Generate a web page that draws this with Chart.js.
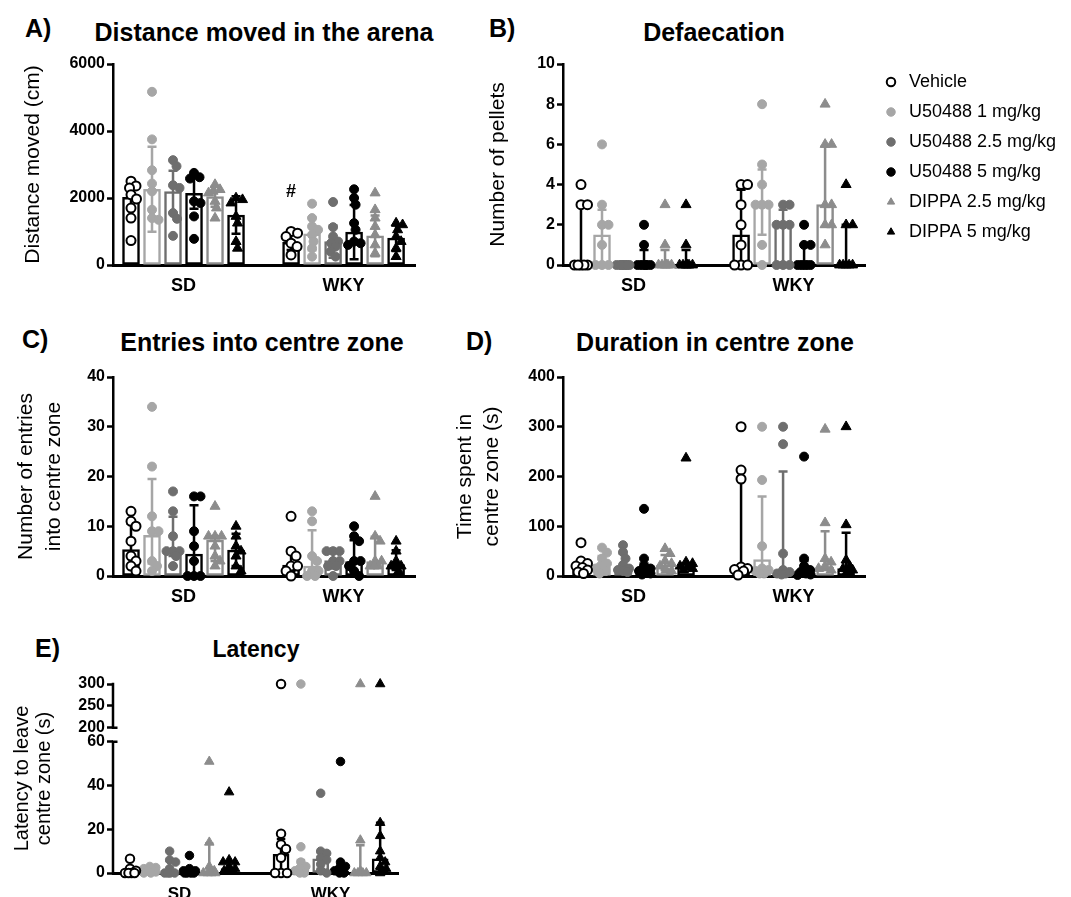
<!DOCTYPE html>
<html lang="en">
<head>
<meta charset="utf-8">
<title>Open field behaviour: SD and WKY rats</title>
<script src="https://cdn.jsdelivr.net/npm/chart.js@4.4.1/dist/chart.umd.min.js"></script>
<style>
  html, body { margin: 0; padding: 0; background: #fff; }
  body { position: relative; width: 1071px; height: 897px; overflow: hidden;
         font-family: "Liberation Sans", Arial, Helvetica, sans-serif; color: #000; }
  canvas { position: absolute; }
  .head { position: absolute; font-weight: bold; white-space: nowrap; line-height: 1; }
  .letter { font-size: 25px; }
  .title { font-size: 25px; transform: translateX(-50%); }
</style>
</head>
<body>
<div class="head letter" style="left:25px; top:16px">A)</div>
<div class="head title" style="left:264px; top:20px">Distance moved in the arena</div>
<div class="head letter" style="left:489px; top:16px">B)</div>
<div class="head title" style="left:714px; top:20px">Defaecation</div>
<div class="head letter" style="left:22px; top:327px">C)</div>
<div class="head title" style="left:262px; top:330px">Entries into centre zone</div>
<div class="head letter" style="left:466px; top:329px">D)</div>
<div class="head title" style="left:715px; top:330px">Duration in centre zone</div>
<div class="head letter" style="left:35px; top:636px">E)</div>
<div class="head title" style="left:256px; top:638px; font-size:23px">Latency</div>

<canvas id="chartA"></canvas>
<canvas id="chartB"></canvas>
<canvas id="chartC"></canvas>
<canvas id="chartD"></canvas>
<canvas id="chartE"></canvas>
<canvas id="legendBox"></canvas>

<script>
// ---------- categories ----------
const groups = ['SD', 'WKY'];
const treatments = ['Vehicle', 'U50488 1 mg/kg', 'U50488 2.5 mg/kg', 'U50488 5 mg/kg', 'DIPPA 2.5 mg/kg', 'DIPPA 5 mg/kg'];

// ---------- A) distance moved (cm): bar = mean, whiskers = SD ----------
const distMeanSD  = [2020, 2260, 2190, 2140, 2040, 1490];
const distMeanWKY = [680, 930, 700, 980, 870, 800];
const distErrSD   = [[1670, 2370], [990, 3530], [1565, 2815], [1680, 2600], [1740, 2340], [930, 2050]];
const distErrWKY  = [[450, 910], [440, 1420], [220, 1180], [170, 1790], [260, 1480], [420, 1180]];
const distPtsSD = [
  [2500, 2360, 2300, 2100, 1970, 1700, 1400, 730],
  [5170, 3750, 2830, 2430, 2200, 1650, 1400, 1350],
  [3130, 2950, 2380, 2300, 1550, 1380, 870],
  [2750, 2620, 2580, 1900, 1850, 1450, 780],
  [2400, 2250, 2200, 2150, 1900, 1700, 1400],
  [2000, 1950, 1850, 1450, 1250, 700, 500]
];
const distPtsWKY = [
  [1000, 950, 850, 650, 550, 300],
  [1830, 1400, 1150, 1050, 900, 700, 500, 250],
  [1880, 1130, 850, 700, 650, 550, 400, 250],
  [2260, 2000, 1800, 1250, 1050, 700, 650, 600],
  [2150, 1650, 1400, 1150, 900, 600, 350],
  [1250, 1200, 1050, 850, 700, 500, 250]
];
const distTicks = [0, 2000, 4000, 6000];

// ---------- B) defaecation (pellets): bar = median, whiskers = IQR ----------
const pelletMedSD  = [0, 1.5, 0, 0, 0, 0];
const pelletMedWKY = [1.5, 3, 2, 0, 3, 0];
const pelletIqrSD  = [[0, 3], [0, 2.75], [0, 0], [0, 0.75], [0, 0.75], [0, 0.75]];
const pelletIqrWKY = [[0, 3.75], [1.5, 4.75], [0, 2.75], [0, 1], [1.9, 5.9], [0, 2]];
const pelletPtsSD = [
  [4, 3, 3, 0, 0, 0, 0, 0],
  [6, 3, 2, 2, 1, 0, 0, 0],
  [0, 0, 0, 0, 0, 0, 0, 0],
  [2, 1, 0, 0, 0, 0, 0, 0],
  [3, 1, 0, 0, 0, 0, 0, 0],
  [3, 1, 0, 0, 0, 0, 0, 0]
];
const pelletPtsWKY = [
  [4, 4, 3, 2, 1, 0, 0, 0],
  [8, 5, 4, 3, 3, 3, 1, 0],
  [3, 3, 2, 2, 2, 0, 0, 0],
  [2, 1, 1, 0, 0, 0, 0, 0],
  [8, 6, 6, 3, 3, 2, 2, 1],
  [4, 2, 2, 0, 0, 0, 0, 0]
];
const pelletTicks = [0, 2, 4, 6, 8, 10];

// ---------- C) entries into centre zone ----------
const entryMedSD  = [5.3, 8.2, 5.4, 4.4, 7.2, 5.2];
const entryMedWKY = [2.2, 2, 3.1, 2.9, 2.9, 2.3];
const entryIqrSD  = [[2.2, 10.5], [2.5, 19.5], [4, 11.9], [0, 14.2], [3, 8], [2, 8.5]];
const entryIqrWKY = [[1, 4.5], [0.5, 9.2], [1.5, 5], [1, 7.2], [2, 7.9], [1.2, 5.2]];
const entryPtsSD = [
  [13, 11, 10, 7, 4, 3, 2, 1],
  [34, 22, 12, 9, 9, 3, 2, 1],
  [17, 13, 8, 5, 5, 5, 4, 2],
  [16, 16, 9, 6, 3, 0, 0, 0],
  [14, 8, 8, 8, 6, 4, 3, 2],
  [10, 8, 6, 5, 4, 2, 1]
];
const entryPtsWKY = [
  [12, 5, 4, 2, 2, 1, 0],
  [13, 11, 4, 3, 1, 1, 0, 0],
  [5, 5, 5, 3, 3, 2, 2, 0],
  [10, 8, 7, 3, 3, 2, 1, 0],
  [16, 8, 7, 3, 3, 2, 2, 2],
  [7, 5, 3, 2, 2, 2, 1]
];
const entryTicks = [0, 10, 20, 30, 40];

// ---------- D) duration in centre zone (s) ----------
const durMedSD  = [18, 18, 15, 10, 22, 18];
const durMedWKY = [16, 33, 10, 8, 18, 15];
const durIqrSD  = [[10, 28], [10, 40], [9, 45], [5, 25], [12, 42], [14, 26]];
const durIqrWKY = [[5, 195], [5, 160], [4, 210], [3, 30], [12, 90], [10, 87]];
const durPtsSD = [
  [67, 30, 25, 20, 17, 12, 8, 5],
  [57, 47, 35, 25, 20, 15, 10, 5],
  [62, 48, 35, 22, 15, 12, 10, 8],
  [135, 35, 20, 15, 10, 8, 5, 3],
  [55, 45, 30, 25, 20, 12, 10],
  [237, 28, 25, 20, 18, 15, 12]
];
const durPtsWKY = [
  [300, 213, 195, 18, 15, 13, 10, 2],
  [300, 193, 60, 15, 12, 10, 5, 5],
  [300, 265, 45, 12, 8, 5, 5, 3],
  [240, 35, 20, 12, 8, 5, 3, 2],
  [295, 107, 35, 28, 20, 15, 12],
  [300, 103, 32, 20, 15, 12, 10]
];
const durTicks = [0, 100, 200, 300, 400];

// ---------- E) latency to leave centre zone (s) ----------
const latMedSD  = [0.5, 1, 1, 0.5, 0.5, 2];
const latMedWKY = [8.5, 2.5, 6.5, 1, 0.5, 6.5];
const latIqrSD  = [[0, 2], [0.5, 2.5], [0, 5.5], [0, 1.5], [0, 13.5], [1, 5]];
const latIqrWKY = [[0, 15.5], [0, 6], [2, 9.5], [0, 4], [0, 12.7], [2, 23]];
const latPtsSD = [
  [6.5, 2, 1, 0, 0, 0, 0],
  [3, 2.5, 2, 1.5, 1, 0.5, 0, 0],
  [10, 6, 5, 2, 0, 0, 0, 0],
  [8, 2, 1, 1, 0, 0, 0, 0],
  [51, 14, 3, 1, 0, 0, 0, 0],
  [37, 6, 5, 5, 3, 2, 1]
];
const latPtsWKY = [
  [300, 18, 13, 11, 7, 0, 0, 0],
  [300, 12, 5, 3, 2, 1, 0, 0],
  [36.5, 10, 9, 7, 6, 4, 1, 0],
  [51, 5, 3, 2, 1, 0, 0],
  [300, 15, 1, 0, 0, 0, 0],
  [300, 23, 17, 10, 7, 5, 3, 2, 0]
];
const latTicks = [0, 20, 40, 60, 200, 250, 300];

// ---------- appearance ----------
const FONT = '"Liberation Sans", Arial, Helvetica, sans-serif';
const seriesStyle = [
  { colour: '#000000', fill: '#ffffff', shape: 'circle',   open: true },
  { colour: '#a6a6a6', fill: '#a6a6a6', shape: 'circle' },
  { colour: '#6e6e6e', fill: '#6e6e6e', shape: 'circle' },
  { colour: '#000000', fill: '#000000', shape: 'circle' },
  { colour: '#8c8c8c', fill: '#8c8c8c', shape: 'triangle' },
  { colour: '#000000', fill: '#000000', shape: 'triangle' }
];
// x layout in bar slots: first bar of each strain group, and visible range
const GROUP_START = [0, 7.62];
const X_RANGE = [-0.857, 13.52];

Chart.defaults.font.family = FONT;
Chart.defaults.color = '#000';
Chart.defaults.animation = false;
Chart.defaults.events = [];
Chart.defaults.plugins.tooltip.enabled = false;
Chart.defaults.plugins.legend.display = false;

// Linear axis with a gap: [min, lowMax] at the bottom, [highMin, max] at the top
class BrokenLinearScale extends Chart.LinearScale {
  static id = 'brokenLinear';
  _toDecimal(v) {
    const b = this.options.broken;
    const gap = 1 - b.lowFrac - b.highFrac;
    if (v <= b.lowMax) return (v - this.min) / (b.lowMax - this.min) * b.lowFrac;
    if (v < b.highMin) return b.lowFrac + gap * (v - b.lowMax) / (b.highMin - b.lowMax);
    return 1 - b.highFrac + b.highFrac * (v - b.highMin) / (this.max - b.highMin);
  }
  getPixelForValue(v) {
    return v === null || v === undefined ? NaN : this.getPixelForDecimal(this._toDecimal(v));
  }
  getValueForPixel(p) {
    const b = this.options.broken;
    const d = this.getDecimalForPixel(p);
    const gap = 1 - b.lowFrac - b.highFrac;
    if (d <= b.lowFrac) return this.min + d / b.lowFrac * (b.lowMax - this.min);
    if (d < b.lowFrac + gap) return b.lowMax + (d - b.lowFrac) / gap * (b.highMin - b.lowMax);
    return b.highMin + (d - 1 + b.highFrac) / b.highFrac * (this.max - b.highMin);
  }
}
Chart.register(BrokenLinearScale);

// error whiskers drawn straight after the bars, beneath the scatter points
const errorBarPlugin = {
  id: 'errorBars',
  afterDatasetDraw(chart, args, opts) {
    if (args.meta.type !== 'bar') return;
    const ys = chart.scales.y, ctx = chart.ctx;
    const ds = chart.data.datasets[args.index];
    args.meta.data.forEach((bar, i) => {
      const [lo, hi] = ds.errors[i];
      if (hi <= lo) return;
      const x = bar.x, yLo = ys.getPixelForValue(lo), yHi = ys.getPixelForValue(hi);
      ctx.save();
      ctx.strokeStyle = ds.borderColor[i];
      ctx.lineWidth = opts.width;
      ctx.lineCap = 'butt';
      ctx.beginPath();
      ctx.moveTo(x, yLo); ctx.lineTo(x, yHi);
      ctx.moveTo(x - opts.cap, yHi); ctx.lineTo(x + opts.cap, yHi);
      ctx.moveTo(x - opts.cap, yLo); ctx.lineTo(x + opts.cap, yLo);
      ctx.stroke();
      ctx.restore();
    });
  }
};

// spreads overlapping points of one bar sideways (scatter-dot layout)
function spreadOffsets(ys, minDist, maxOff, step) {
  const placed = [], out = new Array(ys.length);
  const order = ys.map((y, i) => i).sort((a, b) => ys[a] - ys[b]);
  order.forEach(i => {
    let best = 0, bestGap = -1, done = false;
    for (let s = 0; s <= maxOff + 1e-6 && !done; s += step) {
      for (const off of (s === 0 ? [0] : [s, -s])) {
        let gap = Infinity;
        placed.forEach(q => { gap = Math.min(gap, Math.hypot(off - q.dx, ys[i] - q.y)); });
        if (gap >= minDist) { best = off; done = true; break; }
        if (gap > bestGap) { bestGap = gap; best = off; }
      }
    }
    out[i] = best;
    placed.push({ dx: best, y: ys[i] });
  });
  return out;
}
const swarmPlugin = {
  id: 'swarm',
  beforeDatasetsDraw(chart, args, opts) {
    const xs = chart.scales.x;
    chart.getSortedVisibleDatasetMetas().forEach(meta => {
      if (meta.type !== 'scatter') return;
      const bySlot = new Map();
      meta.data.forEach((el, i) => {
        const slot = meta.controller.getParsed(i).x;
        if (!bySlot.has(slot)) bySlot.set(slot, []);
        bySlot.get(slot).push(el);
      });
      bySlot.forEach((els, slot) => {
        const cx = xs.getPixelForValue(slot);
        const offs = spreadOffsets(els.map(e => e.y), opts.minDist, opts.maxOff, 0.5);
        els.forEach((e, j) => { e.x = cx + offs[j]; });
      });
    });
  }
};

function drawPanel(p) {
  const k = p.k || 1;
  const canvas = document.getElementById(p.id);
  const top = p.plotTop - 20;
  canvas.width = p.plotRight + 15 - p.left;
  canvas.height = p.canvasBottom - top;
  canvas.style.left = p.left + 'px';
  canvas.style.top = top + 'px';
  const xAxisHeight = p.canvasBottom - p.plotBottom;

  const bars = [], barColours = [], errors = [];
  groups.forEach((g, gi) => treatments.forEach((t, ti) => {
    bars.push({ x: GROUP_START[gi] + ti, y: p.centre[gi][ti] });
    barColours.push(seriesStyle[ti].colour);
    errors.push(p.err[gi][ti]);
  }));

  const pointSets = treatments.map((t, ti) => {
    const st = seriesStyle[ti];
    return {
      type: 'scatter', label: t, order: 0, clip: false,
      data: groups.flatMap((g, gi) => p.pts[gi][ti].map(v => ({ x: GROUP_START[gi] + ti, y: v }))),
      pointStyle: st.shape,
      pointRadius: (st.shape === 'triangle' ? 5.8 : 4.5) * k,
      backgroundColor: st.fill,
      borderColor: st.colour,
      borderWidth: st.open ? 2 : 1
    };
  });

  const extra = [];
  if (p.mark) {
    extra.push({
      id: 'sigMark',
      afterDatasetsDraw(chart) {
        const xs = chart.scales.x, ys = chart.scales.y, ctx = chart.ctx;
        const m = p.mark;
        const x = xs.getPixelForValue(GROUP_START[m.group] + m.series);
        const y = ys.getPixelForValue(Math.max(...p.pts[m.group][m.series])) - 39 * k;
        ctx.save();
        ctx.font = `bold ${18 * k}px ${FONT}`;
        ctx.textAlign = 'center'; ctx.textBaseline = 'middle'; ctx.fillStyle = '#000';
        ctx.fillText(m.text, x, y);
        ctx.restore();
      }
    });
  }
  if (p.broken) {
    extra.push({
      id: 'brokenAxisLine',
      beforeDatasetsDraw(chart) {
        const ys = chart.scales.y, ctx = chart.ctx, x = ys.right;
        const b = p.broken;
        ctx.save();
        ctx.strokeStyle = '#000'; ctx.lineWidth = 2.5; ctx.lineCap = 'butt';
        ctx.beginPath();
        ctx.moveTo(x, ys.getPixelForValue(ys.min) + 1.5); ctx.lineTo(x, ys.getPixelForValue(b.lowMax) - 1.25);
        ctx.moveTo(x, ys.getPixelForValue(b.highMin) + 1.25); ctx.lineTo(x, ys.getPixelForValue(ys.max) - 1.25);
        [b.lowMax, b.highMin].forEach(v => {
          const y = ys.getPixelForValue(v);
          ctx.moveTo(x, y); ctx.lineTo(x + 4.5, y);
        });
        ctx.stroke();
        ctx.restore();
      }
    });
  }

  const yScale = {
    type: p.broken ? 'brokenLinear' : 'linear',
    min: p.ticks[0], max: p.ticks[p.ticks.length - 1],
    afterBuildTicks: s => { s.ticks = p.ticks.map(v => ({ value: v })); },
    ticks: { autoSkip: false, padding: 2, color: '#000', font: { size: 16, weight: 'bold' },
             callback: v => String(v) },
    grid: { drawOnChartArea: false, drawTicks: true, tickLength: 6, tickWidth: 2.5, tickColor: '#000' },
    border: { display: !p.broken, color: '#000', width: 2.5 },
    title: { display: true, text: p.title, color: '#000',
             font: { size: p.titleSize, lineHeight: p.titleLine },
             padding: { top: p.titlePad, bottom: 0 } },
    afterFit: s => { s.width = 113; }
  };
  if (p.broken) yScale.broken = p.broken;

  new Chart(canvas, {
    type: 'bar',
    data: {
      datasets: [{
        type: 'bar', order: 1, data: bars, errors,
        backgroundColor: '#ffffff', borderColor: barColours, borderWidth: 2.5,
        borderSkipped: false, barThickness: 17 * k
      }, ...pointSets]
    },
    options: {
      responsive: false,
      layout: { padding: { top: 20, right: 15, left: 0, bottom: 0 } },
      scales: {
        x: {
          type: 'linear', min: X_RANGE[0], max: X_RANGE[1], offset: false,
          afterBuildTicks: s => {
            s.ticks = groups.map((g, gi) => ({ value: GROUP_START[gi] + (treatments.length - 1) / 2 }));
          },
          ticks: { autoSkip: false, maxRotation: 0, padding: p.labelPad, color: '#000',
                   font: { size: 18 * k, weight: 'bold' }, callback: (v, i) => groups[i] },
          grid: { display: false, drawTicks: false, offset: false },
          border: { display: true, color: '#000', width: 3 },
          afterFit: s => { s.height = xAxisHeight; }
        },
        y: yScale
      },
      plugins: {
        errorBars: { width: 2.5, cap: 4.5 * k },
        swarm: { minDist: 6.8 * k, maxOff: 6.5 * k }
      }
    },
    plugins: [errorBarPlugin, swarmPlugin, ...extra]
  });
}

drawPanel({ id: 'chartA', left: 0, plotTop: 64, plotBottom: 265, plotRight: 415, canvasBottom: 310,
  ticks: distTicks, title: 'Distance moved (cm)', titleSize: 21, titleLine: 1.2, titlePad: 21, labelPad: 10,
  centre: [distMeanSD, distMeanWKY], err: [distErrSD, distErrWKY], pts: [distPtsSD, distPtsWKY],
  mark: { group: 1, series: 0, text: '#' } });

drawPanel({ id: 'chartB', left: 450, plotTop: 64, plotBottom: 265, plotRight: 865, canvasBottom: 310,
  ticks: pelletTicks, title: 'Number of pellets', titleSize: 21, titleLine: 1.2, titlePad: 36, labelPad: 10,
  centre: [pelletMedSD, pelletMedWKY], err: [pelletIqrSD, pelletIqrWKY], pts: [pelletPtsSD, pelletPtsWKY] });

drawPanel({ id: 'chartC', left: 0, plotTop: 377, plotBottom: 576, plotRight: 415, canvasBottom: 622,
  ticks: entryTicks, title: ['Number of entries', 'into centre zone'], titleSize: 21, titleLine: 1.35, titlePad: 12, labelPad: 10,
  centre: [entryMedSD, entryMedWKY], err: [entryIqrSD, entryIqrWKY], pts: [entryPtsSD, entryPtsWKY] });

drawPanel({ id: 'chartD', left: 450, plotTop: 377, plotBottom: 576, plotRight: 865, canvasBottom: 622,
  ticks: durTicks, title: ['Time spent in', 'centre zone (s)'], titleSize: 21, titleLine: 1.27, titlePad: 2, labelPad: 10,
  centre: [durMedSD, durMedWKY], err: [durIqrSD, durIqrWKY], pts: [durPtsSD, durPtsWKY] });

drawPanel({ id: 'chartE', left: 0, plotTop: 684, plotBottom: 873, plotRight: 398, canvasBottom: 897, k: 0.944,
  ticks: latTicks, title: ['Latency to leave', 'centre zone (s)'], titleSize: 20, titleLine: 1.1, titlePad: 11, labelPad: 11,
  centre: [latMedSD, latMedWKY], err: [latIqrSD, latIqrWKY], pts: [latPtsSD, latPtsWKY],
  broken: { lowMax: 60, highMin: 200, lowFrac: 0.694, highFrac: 0.232 } });

// treatment key
(function () {
  const canvas = document.getElementById('legendBox');
  canvas.width = 201; canvas.height = 260;
  canvas.style.left = '870px'; canvas.style.top = '61px';
  new Chart(canvas, {
    type: 'scatter',
    data: {
      datasets: treatments.map((t, ti) => ({
        label: t, data: [],
        pointStyle: seriesStyle[ti].shape,
        backgroundColor: seriesStyle[ti].fill,
        borderColor: seriesStyle[ti].colour,
        borderWidth: seriesStyle[ti].open ? 2 : 1
      }))
    },
    options: {
      responsive: false,
      layout: { padding: 0 },
      scales: { x: { display: false }, y: { display: false } },
      plugins: {
        legend: {
          display: true, position: 'top', align: 'start', maxHeight: 260,
          labels: { usePointStyle: true, boxWidth: 18, boxHeight: 6, padding: 12,
                    color: '#000', font: { size: 18 } }
        }
      }
    }
  });
})();
</script>
</body>
</html>
